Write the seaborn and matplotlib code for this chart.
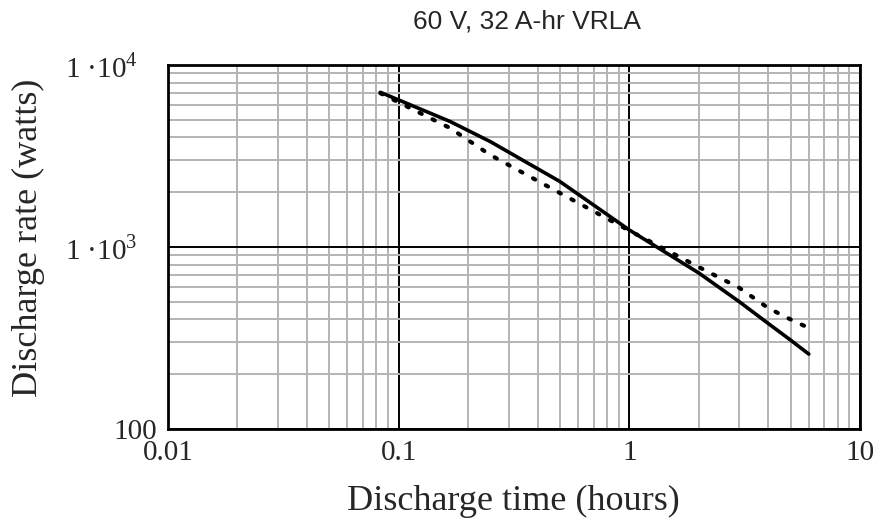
import numpy as np
import pandas as pd
import seaborn as sns
import matplotlib.pyplot as plt
from matplotlib.ticker import FixedLocator, LogLocator, NullFormatter

# discharge curves (hours vs watts)
hours = [0.0833, 0.1667, 0.25, 0.5, 1, 2, 3, 4, 5, 6]
rate_solid = [7080, 4900, 3790, 2290, 1240, 720, 500, 380, 308, 258]
rate_dotted = [7000, 4510, 3200, 1980, 1230, 776, 596, 462, 400, 359]

x_ticks = [0.01, 0.1, 1, 10]
x_labels = ["0.01", "0.1", "1", "10"]
y_ticks = [100, 1000, 10000]
y_labels = ["100", "1 \u00b710$^{3}$", "1 \u00b710$^{4}$"]

title = "60 V, 32 A-hr VRLA"
xlab = "Discharge time (hours)"
ylab = "Discharge rate (watts)"

df = pd.DataFrame({"hours": hours + hours,
                   "rate": rate_solid + rate_dotted,
                   "curve": ["solid"] * len(hours) + ["dotted"] * len(hours)})

sns.set_style("white")
plt.rcParams['font.family'] = ['Liberation Serif', 'DejaVu Serif']
plt.rcParams['mathtext.fontset'] = 'custom'
plt.rcParams['mathtext.rm'] = 'Liberation Serif'

fig, ax = plt.subplots(figsize=(8.85, 5.18), dpi=100)
fig.subplots_adjust(left=168/885, right=860/885, top=1-65/518, bottom=1-429/518)

ax.set_xscale("log")
ax.set_yscale("log")

sns.lineplot(data=df[df.curve == "solid"], x="hours", y="rate", ax=ax,
             color="black", lw=2.6, solid_capstyle="round", zorder=5)
sns.lineplot(data=df[df.curve == "dotted"], x="hours", y="rate", ax=ax,
             color="black", lw=3.0, zorder=5)
ax.lines[-1].set_linestyle((0, (0.6, 2.9)))
ax.lines[-1].set_dash_capstyle("round")

ax.set_xlim(0.01, 10)
ax.set_ylim(100, 10000)

# grid: gray minor, black major
ax.xaxis.set_minor_locator(LogLocator(base=10, subs=np.arange(2, 10)))
ax.yaxis.set_minor_locator(LogLocator(base=10, subs=np.arange(2, 10)))
ax.xaxis.set_minor_formatter(NullFormatter())
ax.yaxis.set_minor_formatter(NullFormatter())
ax.grid(which="minor", color="#b4b4b4", lw=1.4)
ax.grid(which="major", color="black", lw=1.4)
ax.set_axisbelow(True)

ax.xaxis.set_major_locator(FixedLocator(x_ticks))
ax.set_xticklabels(x_labels)
ax.yaxis.set_major_locator(FixedLocator(y_ticks))
ax.set_yticklabels(y_labels)
ax.tick_params(which="both", length=0)
ax.tick_params(axis="x", labelsize=21, pad=8)
ax.tick_params(axis="y", labelsize=21, pad=22)
ax.yaxis.get_major_ticks()[0].set_pad(8)

for s in ax.spines.values():
    s.set_color("black")
    s.set_linewidth(2)

ax.set_xlabel(xlab, fontsize=26)
ax.set_ylabel(ylab, fontsize=26)
ax.xaxis.set_label_coords(0.499, -0.2005)
ax.xaxis.label.set_va("center")
ax.yaxis.set_label_coords(-0.2009, 0.525)
ax.yaxis.label.set_va("center")

fig.text(527/885, 1-22/518, title, fontsize=19, ha="center", va="center",
         family=["Liberation Sans", "DejaVu Sans"])

plt.savefig("out.png", dpi=100)
